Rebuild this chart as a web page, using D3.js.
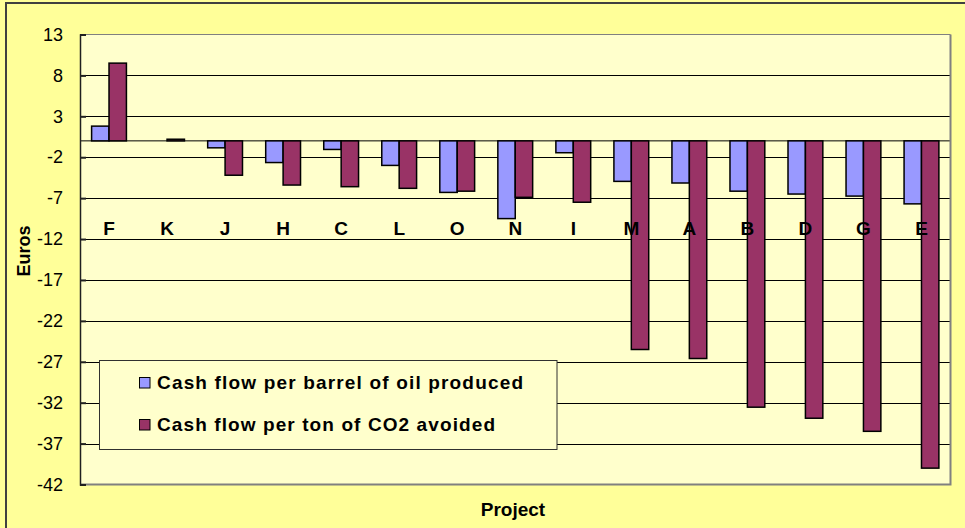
<!DOCTYPE html>
<html>
<head>
<meta charset="utf-8">
<script src="https://cdn.jsdelivr.net/npm/d3@7"></script>
<style>
  html, body { margin: 0; padding: 0; background: #FFFF99; }
  svg { display: block; }
  text { font-family: Arial, "Liberation Sans", sans-serif; fill: #000; }
</style>
</head>
<body>
<svg id="chart" width="965" height="528"></svg>
<script>
// ---- Data ----
const categories = ["F","K","J","H","C","L","O","N","I","M","A","B","D","G","E"];
const seriesNames = ["Cash flow per barrel of oil produced", "Cash flow per ton of CO2 avoided"];
const barrelValues = [1.8, 0, -0.85, -2.65, -1.05, -3.0, -6.3, -9.5, -1.45, -4.95, -5.15, -6.15, -6.5, -6.75, -7.7];
const co2Values    = [9.5, 0.2, -4.2, -5.4, -5.6, -5.8, -6.15, -6.9, -7.5, -25.5, -26.6, -32.55, -33.9, -35.5, -40.0];
const yTicks = [13, 8, 3, -2, -7, -12, -17, -22, -27, -32, -37, -42];
const seriesColors = ["#9999FF", "#993366"];

const svg = d3.select("#chart");
const W = 965, H = 528;
const plot = { left: 80, right: 950.5, top: 34.5, bottom: 484.5 };

// outer chart area
svg.append("rect").attr("x", 0).attr("y", 0).attr("width", W).attr("height", H).attr("fill", "#FFFF99");
svg.append("path")
  .attr("d", `M6,${H+5} L6,3 L${W+5},3`)
  .attr("fill", "none").attr("stroke", "#404040").attr("stroke-width", 2);

const y = d3.scaleLinear().domain([-42, 13]).range([plot.bottom, plot.top]);
const x = d3.scaleBand().domain(categories).range([plot.left, plot.right]).paddingInner(0.4).paddingOuter(0.2);
const x1 = d3.scaleBand().domain([0, 1]).range([0, x.bandwidth()]);

// plot area background
svg.append("rect")
  .attr("x", plot.left).attr("y", plot.top)
  .attr("width", plot.right - plot.left).attr("height", plot.bottom - plot.top)
  .attr("fill", "#FFFFCC");

// gridlines
svg.append("g").selectAll("line")
  .data(yTicks.filter(t => t !== 13 && t !== -42))
  .join("line")
  .attr("x1", plot.left).attr("x2", plot.right)
  .attr("y1", d => Math.round(y(d)) + 0.5).attr("y2", d => Math.round(y(d)) + 0.5)
  .attr("stroke", "#000").attr("stroke-width", 1);

// zero line
svg.append("line")
  .attr("x1", plot.left).attr("x2", plot.right)
  .attr("y1", y(0)).attr("y2", y(0))
  .attr("stroke", "#000").attr("stroke-width", 1);

// plot border: top thin gray, right & bottom gray thicker
svg.append("line").attr("x1", plot.left).attr("x2", plot.right).attr("y1", plot.top).attr("y2", plot.top)
  .attr("stroke", "#808080").attr("stroke-width", 1);
svg.append("path")
  .attr("d", `M${plot.right},${plot.top} L${plot.right},${plot.bottom} L${plot.left},${plot.bottom}`)
  .attr("fill", "none").attr("stroke", "#808080").attr("stroke-width", 2);

// y axis
const yAxis = d3.axisLeft(y).tickValues(yTicks).tickSize(-6).tickPadding(17).tickFormat(d3.format("d"));
const yg = svg.append("g").attr("transform", `translate(${plot.left},0)`).call(yAxis);
yg.select(".domain").attr("stroke", "#202020").attr("stroke-width", 1.5);
yg.selectAll(".tick line").attr("stroke", "#202020").attr("stroke-width", 2);
yg.selectAll(".tick text")
  .style("font-family", "Arial, 'Liberation Sans', sans-serif")
  .style("font-size", "18px")
  .attr("fill", "#000")
  .text(d => d < 0 ? "-" + Math.abs(d) : d);

// bars
const seriesData = [barrelValues, co2Values];
const groups = svg.append("g").selectAll("g")
  .data(categories)
  .join("g")
  .attr("transform", d => `translate(${x(d)},0)`);

groups.selectAll("rect")
  .data((d, i) => seriesData.map((s, k) => ({ k, v: s[i] })))
  .join("rect")
  .attr("x", d => x1(d.k))
  .attr("width", x1.bandwidth())
  .attr("y", d => y(Math.max(0, d.v)))
  .attr("height", d => Math.abs(y(d.v) - y(0)))
  .attr("fill", d => seriesColors[d.k])
  .attr("stroke", "#000")
  .attr("stroke-width", 1.5);

// category labels
svg.append("g").selectAll("text")
  .data(categories)
  .join("text")
  .attr("x", d => x(d) + x.bandwidth() / 2)
  .attr("y", 235)
  .attr("text-anchor", "middle")
  .style("font-size", "19px")
  .style("font-weight", "bold")
  .text(d => d);

// axis titles
svg.append("text")
  .attr("transform", "translate(30,251) rotate(-90)")
  .attr("text-anchor", "middle")
  .style("font-size", "18px")
  .style("font-weight", "bold")
  .text("Euros");

svg.append("text")
  .attr("x", 513).attr("y", 516)
  .attr("text-anchor", "middle")
  .style("font-size", "19px")
  .style("font-weight", "bold")
  .text("Project");

// legend
const lg = svg.append("g");
lg.append("rect")
  .attr("x", 99.5).attr("y", 360.5).attr("width", 457.5).attr("height", 89)
  .attr("fill", "#FFFFCC").attr("stroke", "#303030").attr("stroke-width", 1);
const legendRows = [389, 431];
const targetWidths = [366, 338];
seriesNames.forEach((name, i) => {
  lg.append("rect")
    .attr("x", 139.5).attr("y", legendRows[i] - 11.5).attr("width", 10.5).attr("height", 10.5)
    .attr("fill", seriesColors[i]).attr("stroke", "#000").attr("stroke-width", 1);
  lg.append("text")
    .attr("x", 157).attr("y", legendRows[i])
    .style("font-size", "19px")
    .style("font-weight", "bold")
    .attr("textLength", targetWidths[i])
    .attr("lengthAdjust", "spacing")
    .text(name);
});
</script>
</body>
</html>
